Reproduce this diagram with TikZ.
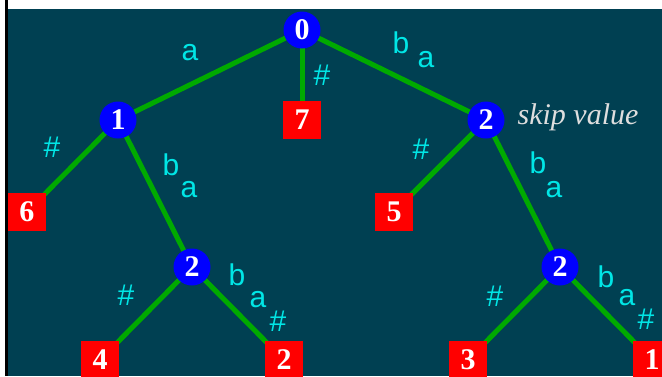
\documentclass[tikz,border=0pt]{standalone}
\usepackage{fontspec}
\setmainfont{Liberation Serif}
\setsansfont{Liberation Sans}
\usepackage{tikz}
\usetikzlibrary{backgrounds}
\definecolor{slate}{RGB}{0,64,82}
\definecolor{nodeblue}{RGB}{0,0,255}
\definecolor{leafred}{RGB}{255,0,0}
\definecolor{edgegreen}{RGB}{0,170,0}
\definecolor{lblcyan}{RGB}{0,230,230}
\definecolor{skipgray}{RGB}{222,222,222}
\tikzset{
  inode/.style = {circle, fill=nodeblue, inner sep=0pt, minimum size=37pt,
                  text=white, font=\fontsize{30}{32}\selectfont\bfseries},
  leaf/.style  = {rectangle, fill=leafred, inner sep=0pt, minimum size=38pt,
                  text=white, font=\fontsize{30}{32}\selectfont\bfseries},
  trie/.style  = {draw=edgegreen, line width=5pt},
  lbl/.style   = {text=lblcyan, inner sep=0pt,
                  font=\sffamily\fontsize{30}{32}\selectfont},
}

\begin{document}
\begin{tikzpicture}[x=1pt, y=-1pt]
\useasboundingbox (0,0) rectangle (662,376);
% ---------------- internal nodes ----------------
\node[inode] (r0)  at (302,30)  {0};
\node[inode] (r1)  at (118,120) {1};
\node[inode] (r2)  at (486,120) {2};
\node[inode] (r2a) at (192,267) {2};
\node[inode] (r2b) at (560,267) {2};
% ---------------- leaves ----------------
\node[leaf] (k7) at (302,120) {7};
\node[leaf] (k6) at (27,212)  {6};
\node[leaf] (k5) at (394,212) {5};
\node[leaf] (k4) at (100,360) {4};
\node[leaf] (k2) at (284,360) {2};
\node[leaf] (k3) at (468,360) {3};
\node[leaf] (k1) at (652,360) {1};
\node[text=skipgray, font=\fontsize{30}{32}\selectfont\itshape]
   (skip) at (578,117) {skip value};
% ---------------- branch labels ----------------
\node[lbl] (l01a)  at (190,53)  {a};
\node[lbl] (l07)   at (322,75)  {\#};
\node[lbl] (l02b)  at (401,43)  {b};
\node[lbl] (l02a)  at (426,60)  {a};
\node[lbl] (l16)   at (52,147)  {\#};
\node[lbl] (l12b)  at (171,165) {b};
\node[lbl] (l12a)  at (189,190) {a};
\node[lbl] (l25)   at (421,149) {\#};
\node[lbl] (l22b)  at (538,163) {b};
\node[lbl] (l22a)  at (554,190) {a};
\node[lbl] (l4)    at (126,295) {\#};
\node[lbl] (l2b)   at (237,275) {b};
\node[lbl] (l2a)   at (258,300) {a};
\node[lbl] (l2h)   at (278,321) {\#};
\node[lbl] (l3)    at (495,296) {\#};
\node[lbl] (l1b)   at (606,277) {b};
\node[lbl] (l1a)   at (627,298) {a};
\node[lbl] (l1h)   at (646,319) {\#};
% ---------------- background + edges ----------------
\begin{scope}[on background layer]
\fill[white] (0,0) rectangle (662,376);
\fill[black] (5,0) rectangle (8,376);
\fill[slate] (8,9) rectangle (662,376);
\draw[trie] (r0.center) -- (r1.center);
\draw[trie] (r0.center) -- (k7.center);
\draw[trie] (r0.center) -- (r2.center);
\draw[trie] (r1.center) -- (k6.center);
\draw[trie] (r1.center) -- (r2a.center);
\draw[trie] (r2.center) -- (k5.center);
\draw[trie] (r2.center) -- (r2b.center);
\draw[trie] (r2a.center) -- (k4.center);
\draw[trie] (r2a.center) -- (k2.center);
\draw[trie] (r2b.center) -- (k3.center);
\draw[trie] (r2b.center) -- (k1.center);
\end{scope}
\end{tikzpicture}
\end{document}
